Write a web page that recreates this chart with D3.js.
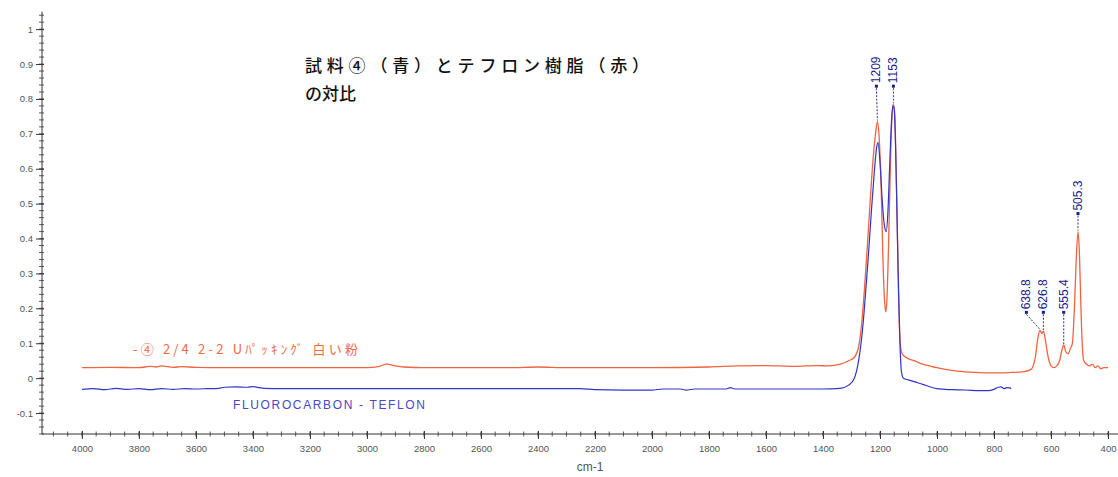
<!DOCTYPE html>
<html>
<head>
<meta charset="utf-8">
<script src="https://cdn.jsdelivr.net/npm/d3@7"></script>
<style>
  html, body { margin: 0; padding: 0; background: #fff; }
  svg { display: block; }
</style>
</head>
<body>
<div id="chart"></div>
<script>
// IR spectra: sample (red) against the library Teflon spectrum (blue)
const titleLines = ["試料④（青）とテフロン樹脂（赤）", "の対比"];
const redName = "-④ 2/4 2-2 Uﾊﾟｯｷﾝｸﾞ 白い粉";
const blueName = "FLUOROCARBON - TEFLON";
const xAxisTitle = "cm-1";

const xTicks = [4000, 3800, 3600, 3400, 3200, 3000, 2800, 2600, 2400, 2200, 2000, 1800, 1600, 1400, 1200, 1000, 800, 600, 400];
const yTicks = [-0.1, 0, 0.1, 0.2, 0.3, 0.4, 0.5, 0.6, 0.7, 0.8, 0.9, 1];

// red spectrum (sample)
const redWavenumber = [4000, 3900, 3800, 3760, 3740, 3720, 3700, 3680, 3650, 3600, 3500, 3000, 2960, 2930, 2900, 2870, 2800, 2500, 2400, 2300, 2000, 1800, 1700, 1600, 1500, 1420, 1380, 1340, 1310, 1290, 1275, 1265, 1255, 1245, 1235, 1225, 1215, 1209, 1203, 1196, 1190, 1184, 1180, 1176, 1170, 1164, 1158, 1153, 1148, 1143, 1138, 1133, 1128, 1122, 1110, 1080, 1050, 1000, 950, 900, 850, 800, 750, 700, 670, 655, 645, 638.8, 632, 626.8, 620, 610, 600, 590, 580, 570, 562, 555.4, 548, 540, 532, 525, 518, 512, 505.3, 500, 495, 490, 485, 475, 465, 455, 445, 435, 425, 415, 400];
const redAbsorbance = [0.030, 0.031, 0.030, 0.034, 0.032, 0.035, 0.033, 0.031, 0.033, 0.031, 0.030, 0.030, 0.033, 0.040, 0.035, 0.032, 0.030, 0.030, 0.032, 0.030, 0.030, 0.032, 0.035, 0.036, 0.034, 0.036, 0.035, 0.040, 0.050, 0.060, 0.090, 0.150, 0.250, 0.370, 0.500, 0.620, 0.705, 0.735, 0.690, 0.550, 0.350, 0.220, 0.190, 0.220, 0.380, 0.590, 0.750, 0.785, 0.750, 0.590, 0.380, 0.180, 0.090, 0.070, 0.060, 0.050, 0.040, 0.030, 0.022, 0.018, 0.016, 0.015, 0.016, 0.018, 0.025, 0.060, 0.120, 0.137, 0.128, 0.135, 0.110, 0.060, 0.035, 0.030, 0.035, 0.050, 0.080, 0.095, 0.075, 0.070, 0.085, 0.100, 0.200, 0.330, 0.420, 0.350, 0.200, 0.090, 0.050, 0.040, 0.035, 0.040, 0.030, 0.035, 0.027, 0.030, 0.030];

// blue spectrum (FLUOROCARBON - TEFLON)
const blueWavenumber = [4000, 3960, 3920, 3880, 3840, 3800, 3760, 3720, 3680, 3640, 3600, 3560, 3520, 3500, 3460, 3420, 3400, 3380, 3360, 3300, 3000, 2600, 2250, 2200, 2100, 2000, 1960, 1900, 1880, 1850, 1740, 1725, 1710, 1600, 1400, 1340, 1310, 1290, 1275, 1260, 1250, 1240, 1230, 1220, 1212, 1207, 1200, 1193, 1185, 1178, 1172, 1166, 1160, 1155, 1150, 1145, 1140, 1135, 1130, 1125, 1118, 1100, 1080, 1050, 1000, 950, 900, 850, 820, 800, 785, 775, 765, 755, 745, 740];
const blueAbsorbance = [-0.032, -0.030, -0.033, -0.029, -0.032, -0.030, -0.033, -0.030, -0.032, -0.030, -0.031, -0.030, -0.029, -0.026, -0.025, -0.026, -0.024, -0.027, -0.029, -0.030, -0.030, -0.030, -0.030, -0.033, -0.034, -0.034, -0.031, -0.031, -0.034, -0.031, -0.031, -0.027, -0.031, -0.031, -0.031, -0.029, -0.020, 0.000, 0.050, 0.150, 0.250, 0.360, 0.480, 0.590, 0.660, 0.675, 0.620, 0.520, 0.440, 0.420, 0.480, 0.610, 0.730, 0.780, 0.770, 0.650, 0.450, 0.250, 0.100, 0.020, 0.000, -0.005, -0.010, -0.018, -0.030, -0.033, -0.034, -0.036, -0.036, -0.032, -0.026, -0.025, -0.030, -0.027, -0.028, -0.030];

// picked peaks on the red spectrum, and which peaks share a label row
const peakWavenumbers = [1209, 1153, 638.8, 626.8, 555.4, 505.3];
const peakText = ["1209", "1153", "638.8", "626.8", "555.4", "505.3"];
const peakGroups = [[1209, 1153], [638.8, 626.8, 555.4], [505.3]];

const W = 1118, H = 477;
const svg = d3.select("#chart").append("svg").attr("width", W).attr("height", H);
svg.append("rect").attr("width", W).attr("height", H).attr("fill", "#fff");

const x = d3.scaleLinear().domain([4140, 365]).range([42, 1118]);
const y = d3.scaleLinear().domain([-0.16, 1.05]).range([434, 11.7]);

const axisColor = "#333";
const labelColor = "#555";
const tickFont = "Liberation Sans, Arial, sans-serif";
const cjkFont = "Noto Sans CJK JP, sans-serif";

// ---- y axis ----
const gy = svg.append("g").attr("transform", `translate(${x.range()[0]},0)`);
gy.append("line").attr("x1", 0).attr("x2", 0).attr("y1", y.range()[1]).attr("y2", y.range()[0])
  .attr("stroke", axisColor).attr("stroke-width", 1);
const yMinor = d3.range(-0.16, 1.051, 0.02);
gy.selectAll("line.ymin").data(yMinor).join("line").attr("class", "ymin")
  .attr("x1", -3).attr("x2", 2).attr("y1", d => y(d)).attr("y2", d => y(d))
  .attr("stroke", axisColor).attr("stroke-width", 0.8);
const yAxis = d3.axisLeft(y).tickValues(yTicks).tickSize(6).tickPadding(3)
  .tickFormat(d => Math.abs(d) < 1e-9 ? "0" : (d === 1 ? "1" : d.toFixed(1)));
const gyA = gy.append("g").call(yAxis);
gyA.select(".domain").remove();
gyA.selectAll(".tick line").attr("stroke", axisColor).attr("x2", -6).attr("x1", 2);
gyA.selectAll(".tick text").attr("fill", labelColor).attr("font-family", tickFont).attr("font-size", 9.5);

// ---- x axis ----
const gx = svg.append("g").attr("transform", `translate(0,${y.range()[0]})`);
gx.append("line").attr("x1", x.range()[0]).attr("x2", x.range()[1]).attr("y1", 0).attr("y2", 0)
  .attr("stroke", axisColor).attr("stroke-width", 1);
const xMinor = d3.range(4100, 364, -50);
gx.selectAll("line.xmin").data(xMinor).join("line").attr("class", "xmin")
  .attr("x1", d => x(d)).attr("x2", d => x(d)).attr("y1", -2.5).attr("y2", 2.5)
  .attr("stroke", axisColor).attr("stroke-width", 0.8);
const xAxis = d3.axisBottom(x).tickValues(xTicks).tickSize(5).tickPadding(6).tickFormat(d3.format("d"));
const gxA = gx.append("g").call(xAxis);
gxA.select(".domain").remove();
gxA.selectAll(".tick line").attr("stroke", axisColor).attr("y1", -3).attr("y2", 5);
gxA.selectAll(".tick text").attr("fill", labelColor).attr("font-family", tickFont).attr("font-size", 9.5);

svg.append("text").attr("x", 590).attr("y", 471).attr("text-anchor", "middle")
  .attr("font-family", tickFont).attr("font-size", 12).attr("fill", labelColor).text(xAxisTitle);

// ---- spectra ----
const redData = redWavenumber.map((w, i) => [w, redAbsorbance[i]]);
const blueData = blueWavenumber.map((w, i) => [w, blueAbsorbance[i]]);
const lineGen = d3.line().x(d => x(d[0])).y(d => y(d[1])).curve(d3.curveMonotoneX);

svg.append("path").attr("d", lineGen(redData)).attr("fill", "none")
  .attr("stroke", "#f0643f").attr("stroke-width", 1.3);
svg.append("path").attr("d", lineGen(blueData)).attr("fill", "none")
  .attr("stroke", "#3434c8").attr("stroke-width", 1.2);

// ---- series names ----
svg.append("text").attr("x", 133).attr("y", 354).attr("textLength", 225).attr("lengthAdjust", "spacing")
  .attr("font-family", cjkFont).attr("font-size", 13)
  .attr("fill", "#ef6a44").text(redName);
svg.append("text").attr("x", 233).attr("y", 409).attr("textLength", 192).attr("lengthAdjust", "spacing")
  .attr("font-family", tickFont).attr("font-size", 12)
  .attr("fill", "#4848c8").text(blueName);

// ---- title ----
svg.append("text").attr("x", 305).attr("y", 72).attr("textLength", 344).attr("lengthAdjust", "spacing")
  .attr("font-family", cjkFont).attr("font-size", 17).attr("font-weight", 500)
  .attr("fill", "#111").text(titleLines[0]);
svg.append("text").attr("x", 305).attr("y", 100)
  .attr("font-family", cjkFont).attr("font-size", 17).attr("font-weight", 500)
  .attr("fill", "#111").text(titleLines[1]);

// ---- peak labels ----
const redAt = w => redAbsorbance[redWavenumber.indexOf(w)];
const peakColor = "#1c1c8a";
const peaks = peakWavenumbers.map((w, i) => ({ w, text: peakText[i], v: redAt(w), px: x(w) }));
peakGroups.forEach(group => {
  const members = peaks.filter(p => group.includes(p.w)).sort((a, b) => b.px - a.px);
  const top = d3.max(members, p => p.v);
  let limit = Infinity;
  members.forEach(p => {
    p.lx = Math.min(p.px, limit - 17);
    limit = p.lx;
    p.base = y(top) - 16;
  });
});
const gp = svg.append("g");
peaks.forEach(p => {
  gp.append("line").attr("x1", p.lx).attr("y1", p.base).attr("x2", p.px).attr("y2", y(p.v) - 1)
    .attr("stroke", peakColor).attr("stroke-width", 0.9).attr("stroke-dasharray", "2,1.5");
  gp.append("rect").attr("x", p.lx - 1.5).attr("y", p.base - 3.5).attr("width", 3).attr("height", 3)
    .attr("fill", peakColor);
  gp.append("text").attr("transform", `translate(${p.lx + 4},${p.base - 5}) rotate(-90)`)
    .attr("font-family", tickFont).attr("font-size", 12).attr("fill", peakColor).text(p.text);
});
</script>
</body>
</html>
